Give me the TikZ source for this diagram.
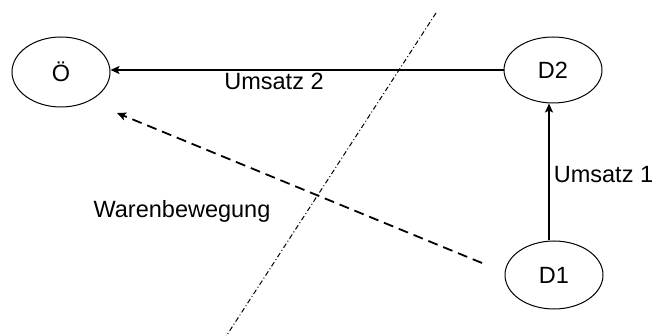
\documentclass[tikz,border=0pt]{standalone}
\usepackage{fontspec}
\setmainfont{Liberation Sans}
\usetikzlibrary{shapes.geometric,arrows.meta}
\begin{document}
\begin{tikzpicture}[x=1pt,y=-1pt,
  party/.style={draw,ellipse,line width=1pt,minimum width=98pt,inner sep=0pt,font=\fontsize{23.5}{27}\selectfont},
  flow/.style={line width=1.8pt,-{Stealth[length=9pt,width=8pt,inset=2pt]}},
  lbl/.style={anchor=base,inner sep=0pt,font=\fontsize{23.5}{27}\selectfont},
  border/.style={line width=1pt,dash pattern=on 5pt off 2.5pt on 1pt off 2.5pt}]
\useasboundingbox (0,0) rectangle (658,336);
% trading partners
\node[party,minimum height=70pt] (OE) at (61,72) {Ö};
\node[party,minimum height=66pt] (D2) at (553,70) {D2};
\node[party,minimum height=68pt] (D1) at (554,275) {D1};
% border line
\coordinate (bt) at (436,13);
\coordinate (bb) at (225,338);
\draw[border] (bt) -- (bb);
% invoices
\draw[flow] (D2.west) -- (OE.east |- D2.west);
\draw[flow] (D1.north -| 549,0) -- (D2.south -| 549,0);
% movement of goods
\coordinate (ws) at (482,263);
\coordinate (we) at (117,113);
\draw[flow,dash pattern=on 10pt off 6pt] (ws) -- (we);
% labels
\node[lbl] (u2) at (274,90) {Umsatz 2};
\node[lbl] (u1) at (603.5,183) {Umsatz 1};
\node[lbl] (wb) at (182,218) {Warenbewegung};
\end{tikzpicture}
\end{document}
